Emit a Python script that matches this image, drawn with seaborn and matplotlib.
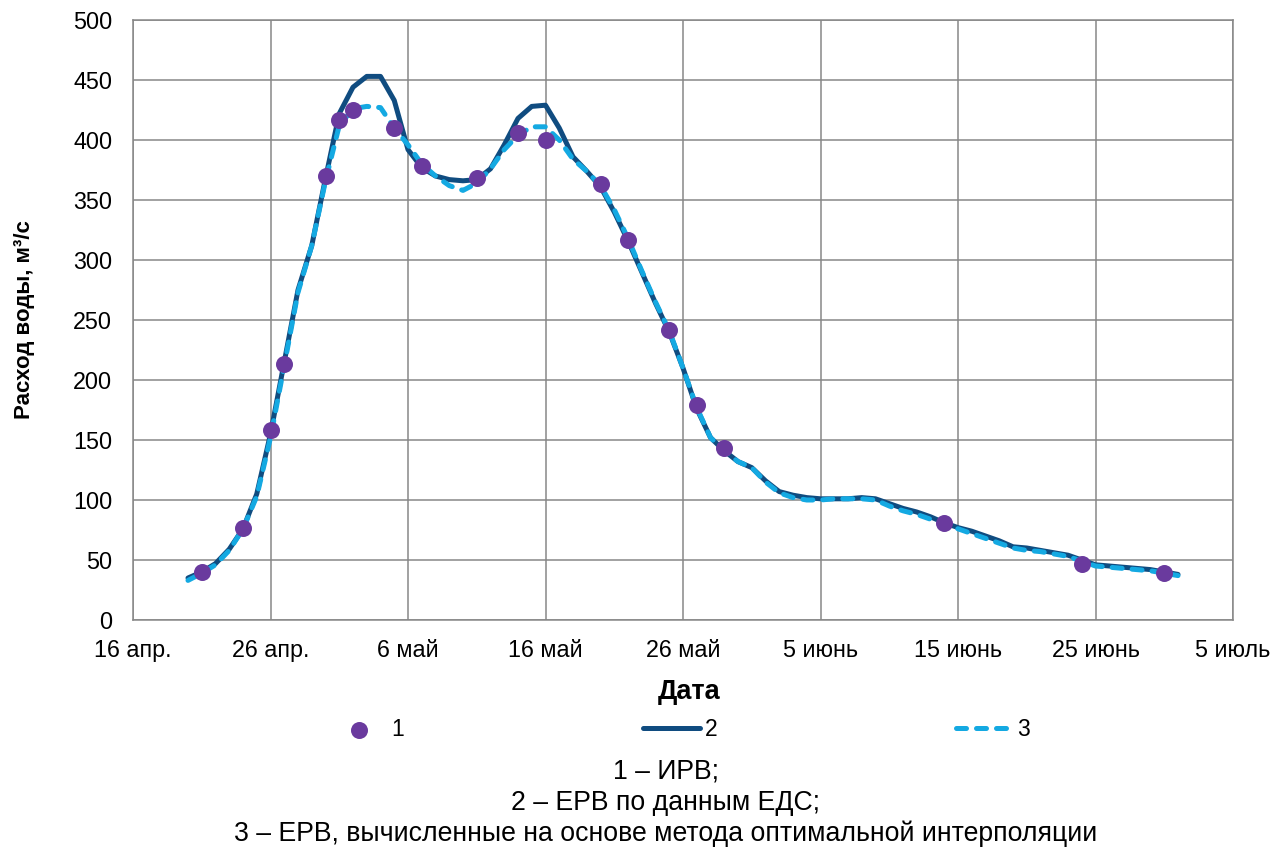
import pandas as pd
import seaborn as sns
from matplotlib import pyplot as plt

# Наблюдения (1 – ИРВ)
obs_dates = ["2019-04-21", "2019-04-24", "2019-04-26", "2019-04-27", "2019-04-30",
             "2019-05-01", "2019-05-02", "2019-05-05", "2019-05-07", "2019-05-11",
             "2019-05-14", "2019-05-16", "2019-05-20", "2019-05-22", "2019-05-25",
             "2019-05-27", "2019-05-29", "2019-06-14", "2019-06-24", "2019-06-30"]
obs_values = [40, 77, 158, 213, 370, 417, 425, 410, 378, 368,
              406, 400, 363, 317, 242, 179, 143, 81, 47, 39]

# Ежедневные ряды с 20 апр. по 1 июля
line_start, line_end = "2019-04-20", "2019-07-01"
erv_eds = [35, 40, 47, 59, 76, 105, 155, 215, 275, 312,
           368, 422, 444, 453, 453, 433, 392, 377, 370, 367,
           366, 367, 376, 396, 418, 428, 429, 410, 386, 374,
           361, 340, 316, 290, 264, 240, 210, 176, 152, 141,
           132, 127, 116, 107, 104, 102, 101, 101, 101, 102,
           101, 97, 93, 90, 86, 81, 77, 74, 70, 66,
           61, 60, 58, 56, 54, 50, 46, 45, 44, 43,
           42, 40, 38]
erv_oi = [33, 39, 46, 58, 76, 103, 152, 212, 273, 312,
          366, 412, 426, 428, 427, 410, 396, 380, 370, 362,
          358, 364, 376, 392, 404, 411, 411, 400, 384, 374,
          362, 342, 318, 291, 265, 241, 210, 177, 152, 141,
          132, 127, 115, 106, 102, 100, 100, 101, 101, 101,
          100, 95, 91, 88, 84, 80, 76, 72, 68, 64,
          60, 58, 57, 55, 53, 49, 45, 44, 43, 42,
          41, 39, 37]

tick_dates = ["2019-04-16", "2019-04-26", "2019-05-06", "2019-05-16", "2019-05-26",
              "2019-06-05", "2019-06-15", "2019-06-25", "2019-07-05"]
tick_labels = ["16 апр.", "26 апр.", "6 май", "16 май", "26 май",
               "5 июнь", "15 июнь", "25 июнь", "5 июль"]
y_ticks = [0, 50, 100, 150, 200, 250, 300, 350, 400, 450, 500]

caption = ["1 – ИРВ;",
           "2 – ЕРВ по данным ЕДС;",
           "3 – ЕРВ, вычисленные на основе метода оптимальной интерполяции"]

sns.set_style("white")
plt.rcParams["font.family"] = ["Liberation Sans", "DejaVu Sans"]
plt.rcParams["text.color"] = "black"
plt.rcParams["xtick.color"] = "black"
plt.rcParams["ytick.color"] = "black"
plt.rcParams["axes.labelcolor"] = "black"

grid_color = "#878787"
c_obs = "#6A3A9E"
c_eds = "#104C80"
c_oi = "#14A9E2"

obs = pd.DataFrame({"date": pd.to_datetime(obs_dates), "q": obs_values})
lines = pd.DataFrame({"date": pd.date_range(line_start, line_end),
                      "eds": erv_eds, "oi": erv_oi})

fig = plt.figure(figsize=(12.88, 8.49), dpi=100)
ax = fig.add_axes([133 / 1288, 1 - 620 / 849, 1100 / 1288, 600 / 849])

sns.lineplot(data=lines, x="date", y="eds", color=c_eds, linewidth=3.6,
             label="2", ax=ax, zorder=2, solid_capstyle="round",
             solid_joinstyle="round")
sns.lineplot(data=lines, x="date", y="oi", color=c_oi, linewidth=3.6,
             label="3", ax=ax, zorder=3)
ax.lines[-1].set_dashes([2.0, 2.0])
ax.lines[-1].set_dash_capstyle("round")
ax.lines[-1].set_dash_joinstyle("round")
sns.scatterplot(data=obs, x="date", y="q", color=c_obs, s=150, linewidth=0,
                label="1", ax=ax, zorder=4)

ax.set_xlim(pd.Timestamp(tick_dates[0]), pd.Timestamp(tick_dates[-1]))
ax.set_ylim(0, 500)
ax.set_xticks(pd.to_datetime(tick_dates))
ax.set_xticklabels(tick_labels)
ax.set_yticks(y_ticks)
ax.tick_params(axis="both", length=0, labelsize=16.8)
ax.tick_params(axis="x", pad=14)
ax.tick_params(axis="y", pad=15)

ax.grid(True, color=grid_color, linewidth=1.1)
for sp in ax.spines.values():
    sp.set_visible(True)
    sp.set_color(grid_color)
    sp.set_linewidth(1.1)

ax.set_xlabel("Дата", fontsize=19.5, fontweight="bold")
ax.set_ylabel("Расход воды, м³/с", fontsize=16, fontweight="bold")
ax.xaxis.set_label_coords((689 - 133) / 1100, -0.098)
ax.yaxis.set_label_coords(-0.089, 0.5)

handles, labels = ax.get_legend_handles_labels()
order = [labels.index(k) for k in ["1", "2", "3"]]
ax.legend_.remove()
fig.legend([handles[i] for i in order], [labels[i] for i in order],
           ncol=3, loc="center", bbox_to_anchor=(0.528, 1 - 730 / 849),
           frameon=False, fontsize=16.5, handlelength=2.5, handletextpad=0.2,
           columnspacing=10.4, borderpad=0)

for i, line in enumerate(caption):
    fig.text(0.517, 1 - (771 + 31.5 * i) / 849, line, ha="center", va="center",
             fontsize=19.2)

fig.savefig("out.png", dpi=100)
